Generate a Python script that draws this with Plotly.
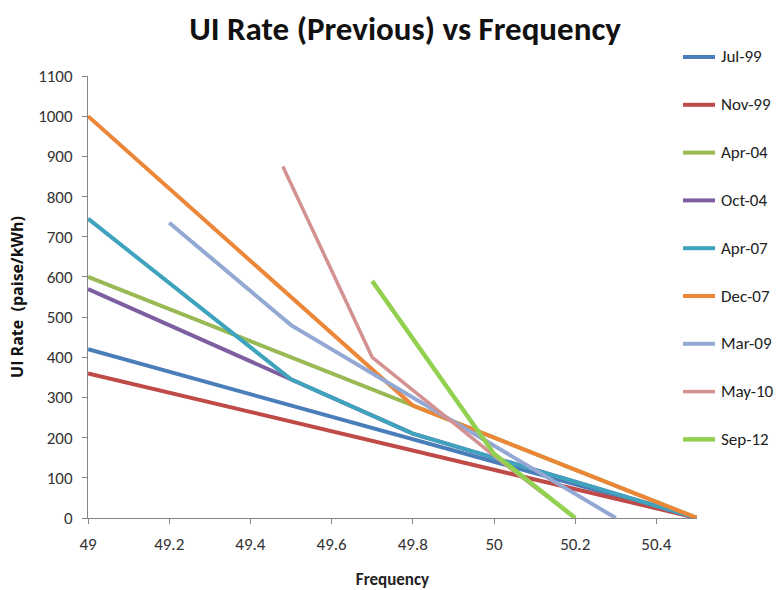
import plotly.graph_objects as go

# UI rate schedules (paise/kWh) against grid frequency (Hz)
series_names = ["Jul-99", "Nov-99", "Apr-04", "Oct-04", "Apr-07",
                "Dec-07", "Mar-09", "May-10", "Sep-12"]

jul99_f = [49.0, 50.5]
jul99_r = [420, 0]

nov99_f = [49.0, 50.5]
nov99_r = [360, 0]

apr04_f = [49.0, 50.5]
apr04_r = [600, 0]

oct04_f = [49.0, 49.5, 49.8, 50.5]
oct04_r = [570, 345, 210, 0]

apr07_f = [49.0, 49.5, 49.8, 50.5]
apr07_r = [745, 345, 210, 0]

dec07_f = [49.0, 49.8, 50.5]
dec07_r = [1000, 280, 0]

mar09_f = [49.2, 49.5, 50.3]
mar09_r = [735, 480, 0]

may10_f = [49.48, 49.7, 50.0, 50.2]
may10_r = [875, 400, 155, 0]

sep12_f = [49.7, 50.0, 50.2]
sep12_r = [590, 160, 0]

freqs = [jul99_f, nov99_f, apr04_f, oct04_f, apr07_f,
         dec07_f, mar09_f, may10_f, sep12_f]
rates = [jul99_r, nov99_r, apr04_r, oct04_r, apr07_r,
         dec07_r, mar09_r, may10_r, sep12_r]

colors = ["#4A7EBB", "#BE4B48", "#98B954", "#7D5FA0", "#3FA3BE",
          "#EC8638", "#93A9D4", "#D39191", "#92D050"]
widths = [4, 4, 4, 4, 4, 4, 4, 3.5, 4.5]

x_ticks = [49.0, 49.2, 49.4, 49.6, 49.8, 50.0, 50.2, 50.4]
x_tick_labels = ["49", "49.2", "49.4", "49.6", "49.8", "50", "50.2", "50.4"]

FONT = "Carlito, Lato, 'Open Sans', sans-serif"
WIDE_FONT = "'Open Sans', Lato, sans-serif"

# plot area in pixels (used to place the hand-built legend)
W, H = 781, 590
ML, MR, MT, MB = 88, 84, 76, 72
PW, PH = W - ML - MR, H - MT - MB


def px_to_paper(px, py):
    return (px - ML) / PW, (H - MB - py) / PH


fig = go.Figure()
for name, f, r, c, w in zip(series_names, freqs, rates, colors, widths):
    fig.add_trace(go.Scatter(
        x=f, y=r, mode="lines", name=name,
        line=dict(color=c, width=w),
        hoverinfo="x+y+name", showlegend=False,
    ))

# legend: a short line sample and label per series, stacked on the right
shapes, annotations = [], []
for i, (name, c, w) in enumerate(zip(series_names, colors, widths)):
    py = 57 + i * 47.8
    x0, y0 = px_to_paper(683, py)
    x1, _ = px_to_paper(715, py)
    shapes.append(dict(type="line", xref="paper", yref="paper",
                       x0=x0, x1=x1, y0=y0, y1=y0,
                       line=dict(color=c, width=w)))
    tx, _ = px_to_paper(719, py)
    annotations.append(dict(xref="paper", yref="paper", x=tx, y=y0,
                            xanchor="left", yanchor="middle", showarrow=False,
                            text=name,
                            font=dict(family=FONT, size=17, color="#222222")))

fig.update_layout(
    width=W, height=H,
    paper_bgcolor="white", plot_bgcolor="white",
    margin=dict(l=ML, r=MR, t=MT, b=MB, autoexpand=False),
    font=dict(family=FONT, color="#333333"),
    title=dict(
        text="<b>UI Rate (Previous) vs Frequency</b>",
        x=405 / W, xanchor="center", xref="container",
        y=1 - 28 / H, yanchor="middle",
        font=dict(family=FONT, size=33, color="#111111"),
    ),
    showlegend=False,
    shapes=shapes,
    annotations=annotations,
    xaxis=dict(
        range=[49.0, 50.5], automargin=False,
        tickvals=x_ticks, ticktext=x_tick_labels,
        showgrid=False, zeroline=False,
        showline=True, linecolor="#868686", linewidth=1,
        ticks="outside", ticklen=5, tickcolor="#868686",
        ticklabelstandoff=6,
        tickfont=dict(family=FONT, size=17, color="#333333"),
        title=dict(text="<b>Frequency</b>",
                   font=dict(family=FONT, size=17, color="#222222"),
                   standoff=19),
    ),
    yaxis=dict(
        range=[0, 1100], dtick=100, automargin=False,
        showgrid=False, zeroline=False,
        showline=True, linecolor="#868686", linewidth=1,
        ticks="outside", ticklen=5, tickcolor="#868686",
        ticklabelstandoff=6,
        tickfont=dict(family=FONT, size=17, color="#333333"),
        title=dict(text="<b>UI Rate  (paise/kWh)</b>",
                   font=dict(family=WIDE_FONT, size=16, color="#111111"),
                   standoff=10),
    ),
)

fig.write_html("out.html")
